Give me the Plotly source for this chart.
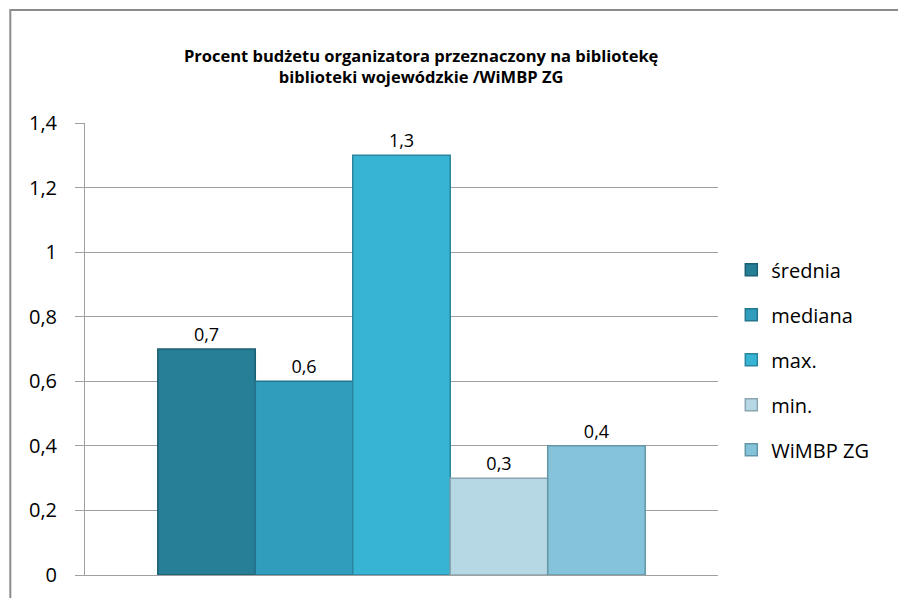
import plotly.graph_objects as go

series = ["średnia", "mediana", "max.", "min.", "WiMBP ZG"]
values = [0.7, 0.6, 1.3, 0.3, 0.4]
labels = ["0,7", "0,6", "1,3", "0,3", "0,4"]
colors = ["#277f97", "#2f9dbb", "#37b3d4", "#b6d7e4", "#84c3da"]
outlines = ["#1d5f72", "#23768d", "#2a869f", "#8aa6b2", "#6496a8"]
category = [""]

fig = go.Figure()
for i, name in enumerate(series):
    fig.add_trace(go.Bar(
        x=category,
        y=[values[i]],
        name=name,
        text=[labels[i]],
        textposition="outside",
        textfont=dict(size=18, color="#000000"),
        marker=dict(color=colors[i], line=dict(color=outlines[i], width=1.5)),
        legendgroup=name,
        cliponaxis=False,
    ))

# page body has an 8px margin, so the figure is laid out 8px up/left
fig.update_layout(
    width=906,
    height=598,
    margin=dict(l=77, r=196, t=115, b=31, autoexpand=False),
    paper_bgcolor="white",
    plot_bgcolor="white",
    font=dict(family="'Open Sans', Lato, sans-serif", color="#000000"),
    separators=", ",
    barmode="group",
    bargap=0.23,
    bargroupgap=0,
    title=dict(
        text="<b>Procent budżetu organizatora przeznaczony na bibliotekę<br>"
             "biblioteki wojewódzkie /WiMBP ZG</b>",
        x=0.456,
        xanchor="center",
        y=0.91,
        yanchor="top",
        font=dict(size=16.5),
    ),
    showlegend=True,
    legend=dict(
        x=1.021,
        y=0.476,
        xanchor="left",
        yanchor="middle",
        font=dict(size=20),
        tracegroupgap=16,
        bgcolor="rgba(0,0,0,0)",
    ),
    xaxis=dict(
        showticklabels=False,
        showline=True,
        linecolor="#a0a0a0",
        ticks="",
        automargin=False,
    ),
    yaxis=dict(
        range=[0, 1.4],
        dtick=0.2,
        showgrid=True,
        gridcolor="#a0a0a0",
        gridwidth=1,
        showline=True,
        linecolor="#a0a0a0",
        ticks="outside",
        ticklen=9,
        tickcolor="#a0a0a0",
        tickfont=dict(size=20),
        ticklabelstandoff=14,
        zeroline=False,
        automargin=False,
    ),
    shapes=[dict(
        type="rect",
        xref="paper", yref="paper",
        x0=-0.118, x1=1.4, y0=-0.1, y1=1.25,
        line=dict(color="#8c8c8c", width=2),
        fillcolor="rgba(0,0,0,0)",
        layer="below",
    )],
)

fig.write_html("out.html")
